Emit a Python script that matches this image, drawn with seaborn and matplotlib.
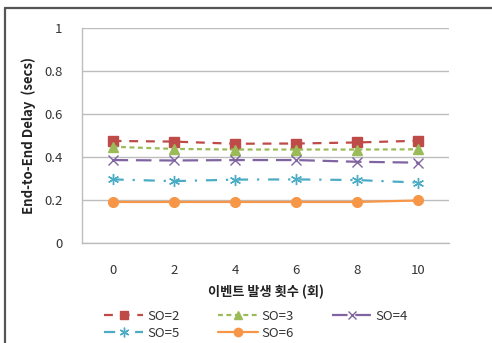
import pandas as pd
import matplotlib
matplotlib.use("Agg")
import matplotlib.pyplot as plt
from matplotlib.lines import Line2D
import seaborn as sns

# Data
events = ["0", "2", "4", "6", "8", "10"]
so2 = [0.475, 0.472, 0.462, 0.463, 0.468, 0.476]
so3 = [0.448, 0.438, 0.435, 0.435, 0.435, 0.436]
so4 = [0.386, 0.384, 0.386, 0.386, 0.378, 0.374]
so5 = [0.296, 0.288, 0.295, 0.296, 0.293, 0.281]
so6 = [0.191, 0.191, 0.191, 0.191, 0.191, 0.198]
series_names = ["SO=2", "SO=3", "SO=4", "SO=5", "SO=6"]

sns.set_style("white")
plt.rcParams["font.family"] = ["Noto Sans CJK KR", "DejaVu Sans"]

styles = {
    "SO=2": dict(color="#BE4B48", marker="s", ls=(0, (4, 3.5)), ms=7),
    "SO=3": dict(color="#9BBB59", marker="^", ls=(0, (2.2, 1.6)), ms=7),
    "SO=4": dict(color="#8064A2", marker="x", ls=(0, (7, 3.5)), ms=7),
    "SO=5": dict(color="#4BACC6", marker=(6, 2, 0), ls=(0, (5, 4, 1, 4)), ms=8),
    "SO=6": dict(color="#F79646", marker="o", ls="-", ms=7),
}

fig = plt.figure(figsize=(4.92, 3.43), dpi=100)
ax = fig.add_axes([0.1667, 0.2915, 0.746, 0.6265])

handles = {}
for name, vals in zip(series_names, [so2, so3, so4, so5, so6]):
    st = styles[name]
    df = pd.DataFrame({"event": events, "delay": vals})
    sns.lineplot(data=df, x="event", y="delay", ax=ax, color=st["color"],
                 linestyle=st["ls"], linewidth=1.6, marker=st["marker"],
                 markersize=st["ms"], markeredgecolor=st["color"],
                 markeredgewidth=1.0, legend=False)
    handles[name] = Line2D([], [], color=st["color"], linestyle=st["ls"],
                           linewidth=1.6, marker=st["marker"],
                           markersize=st["ms"] - 1, markeredgecolor=st["color"])

ax.set_xlim(-0.5, 5.5)
ax.set_ylim(0, 1)
ax.set_yticks([0, 0.2, 0.4, 0.6, 0.8, 1.0])
ax.set_yticklabels(["0", "0.2", "0.4", "0.6", "0.8", "1"])
ax.yaxis.grid(True, color="#BDBDBD", linewidth=1.0)
ax.set_axisbelow(True)
for side in ["top", "right"]:
    ax.spines[side].set_visible(False)
for side in ["left", "bottom"]:
    ax.spines[side].set_color("#BDBDBD")
    ax.spines[side].set_linewidth(1.0)
ax.tick_params(axis="both", length=0, labelsize=9.5, colors="#333333")
ax.tick_params(axis="y", pad=14)
ax.tick_params(axis="x", pad=15)

ax.set_ylabel("End-to-End Delay  (secs)", fontsize=9.5, fontweight="bold",
              color="#222222", labelpad=6)
ax.set_xlabel("이벤트 발생 횟수 (회)", fontsize=9.5, fontweight="bold",
              color="#222222", labelpad=6)

order = ["SO=2", "SO=5", "SO=3", "SO=6", "SO=4"]
fig.legend([handles[n] for n in order], order, loc="upper left",
           bbox_to_anchor=(0.195, 0.12), ncol=3, frameon=False, fontsize=9.5,
           handlelength=3.0, handletextpad=0.3, columnspacing=2.9,
           labelspacing=0.3, borderpad=0.1, labelcolor="#333333")

# outer border like the pasted chart frame
fig.add_artist(Line2D([0.0105, 1.0], [0.978, 0.978], transform=fig.transFigure,
                      color="#555555", linewidth=1.6))
fig.add_artist(Line2D([0.0105, 0.0105], [0.0, 0.978], transform=fig.transFigure,
                      color="#555555", linewidth=1.6))

fig.savefig("out.png", dpi=100)
